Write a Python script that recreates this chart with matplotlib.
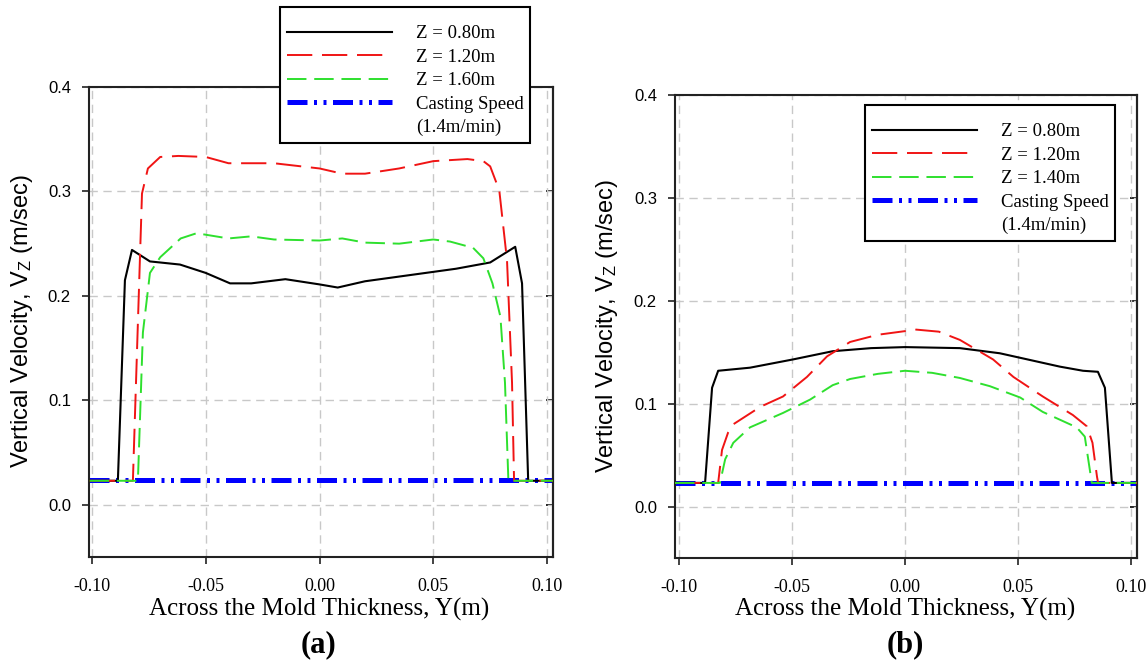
import matplotlib
matplotlib.use("Agg")
import matplotlib.pyplot as plt
from matplotlib.lines import Line2D

plt.rcParams['axes.unicode_minus'] = False
plt.rcParams['mathtext.default'] = 'regular'

# casting speed 1.4 m/min in m/s
cast_speed = 1.4 / 60.0

# ---- panel (a) ----
a_x_080 = [-0.101, -0.0886, -0.0855, -0.0824, -0.0745, -0.0613, -0.050, -0.0393, -0.030, -0.015,
           0.000, 0.008, 0.020, 0.040, 0.060, 0.075, 0.086, 0.089, 0.0917, 0.1025]
a_v_080 = [0.023, 0.023, 0.215, 0.244, 0.233, 0.230, 0.222, 0.212, 0.212, 0.216,
           0.211, 0.208, 0.214, 0.220, 0.226, 0.232, 0.247, 0.212, 0.023, 0.023]

a_x_120 = [-0.101, -0.082, -0.078, -0.0754, -0.070, -0.062, -0.050, -0.040, -0.020, 0.000,
           0.010, 0.020, 0.035, 0.050, 0.065, 0.072, 0.075, 0.079, 0.0824, 0.0846, 0.0855, 0.1025]
a_v_120 = [0.023, 0.023, 0.298, 0.322, 0.333, 0.334, 0.333, 0.327, 0.327, 0.322,
           0.317, 0.317, 0.322, 0.329, 0.331, 0.329, 0.324, 0.301, 0.234, 0.117, 0.023, 0.023]

a_x_160 = [-0.101, -0.0798, -0.0776, -0.0745, -0.070, -0.061, -0.054, -0.040, -0.030, -0.020,
           0.000, 0.010, 0.020, 0.035, 0.050, 0.0574, 0.0675, 0.072, 0.076, 0.0795, 0.0815, 0.083, 0.1025]
a_v_160 = [0.023, 0.023, 0.165, 0.222, 0.237, 0.255, 0.260, 0.255, 0.257, 0.254,
           0.253, 0.255, 0.251, 0.250, 0.254, 0.252, 0.246, 0.236, 0.212, 0.180, 0.117, 0.023, 0.023]

# ---- panel (b) ----
b_x_080 = [-0.1018, -0.0885, -0.0854, -0.0827, -0.0686, -0.0496, -0.032, -0.015, 0.000, 0.0243,
           0.042, 0.0686, 0.0788, 0.0854, 0.0885, 0.0916, 0.1027]
b_v_080 = [0.023, 0.023, 0.1155, 0.132, 0.135, 0.143, 0.151, 0.154, 0.155, 0.154,
           0.149, 0.136, 0.132, 0.131, 0.1155, 0.023, 0.023]

b_x_120 = [-0.1018, -0.0827, -0.081, -0.0783, -0.076, -0.064, -0.054, -0.0434, -0.0345, -0.0243,
           -0.012, 0.005, 0.015, 0.0243, 0.039, 0.048, 0.061, 0.0743, 0.0805, 0.083, 0.085, 0.0855, 0.1027]
b_v_120 = [0.023, 0.023, 0.055, 0.072, 0.080, 0.097, 0.107, 0.126, 0.146, 0.160,
           0.167, 0.172, 0.170, 0.162, 0.143, 0.126, 0.107, 0.089, 0.078, 0.062, 0.029, 0.023, 0.023]

b_x_140 = [-0.1018, -0.0819, -0.0796, -0.076, -0.0686, -0.054, -0.042, -0.032, -0.0243, -0.012,
           0.000, 0.012, 0.0243, 0.0376, 0.051, 0.061, 0.076, 0.0796, 0.0827, 0.1027]
b_v_140 = [0.023, 0.023, 0.046, 0.062, 0.077, 0.091, 0.104, 0.118, 0.124, 0.129,
           0.132, 0.130, 0.125, 0.117, 0.106, 0.092, 0.077, 0.068, 0.023, 0.023]

x_ticks = [-0.10, -0.05, 0.00, 0.05, 0.10]
y_ticks = [0.0, 0.1, 0.2, 0.3, 0.4]

fig = plt.figure(figsize=(11.48, 6.64), dpi=100)
ax_a = fig.add_axes([0.0775, 0.1611, 0.4042, 0.7079])
ax_b = fig.add_axes([0.5880, 0.1596, 0.4024, 0.6973])


def draw_panel(ax, xlim, curves, z_labels, leg_anchor):
    ax.set_xlim(*xlim)
    ax.set_ylim(-0.05, 0.4)
    blue, = ax.plot([xlim[0], xlim[1]], [cast_speed, cast_speed], color='#0000ff', lw=3.6,
                    dashes=(4, 1.3, 0.6, 1.3, 0.6, 1.3), zorder=2)
    black, = ax.plot(curves[0][0], curves[0][1], color='black', lw=1.5, zorder=3)
    red, = ax.plot(curves[1][0], curves[1][1], color='#f01414', lw=1.4, dashes=(13, 5), zorder=3)
    green, = ax.plot(curves[2][0], curves[2][1], color='#2ee02e', lw=1.4, dashes=(10, 4), zorder=3)

    ax.set_xticks(x_ticks)
    ax.set_yticks(y_ticks)
    ax.set_xticklabels(['%.2f' % v for v in x_ticks], fontfamily='Liberation Serif', fontsize=13)
    ax.set_yticklabels(['%.1f' % v for v in y_ticks], fontfamily='Liberation Sans', fontsize=12)
    ax.tick_params(direction='out', length=5, width=1.2, colors='#222222', labelcolor='black')
    ax.tick_params(axis='x', pad=10)
    ax.tick_params(axis='y', pad=8)
    sec = ax.secondary_yaxis('right')
    sec.set_yticks(y_ticks)
    sec.tick_params(direction='in', length=5, width=1.2, labelright=False)
    sec.spines['right'].set_linewidth(1.5)
    ax.grid(True, color='#c8c8c8', ls=(0, (6, 4)), lw=1.0)
    ax.set_axisbelow(True)
    for s in ax.spines.values():
        s.set_linewidth(1.5)
        s.set_color('#222222')

    spacer = Line2D([], [], linestyle='none')
    leg = ax.legend([black, red, green, blue, spacer],
                    z_labels + ['Casting Speed', '(1.4m/min)'],
                    loc='upper left', bbox_to_anchor=leg_anchor, bbox_transform=fig.transFigure,
                    borderaxespad=0, prop={'family': 'Liberation Serif', 'size': 13.5},
                    title=' ', title_fontsize=4,
                    handlelength=5.6, handletextpad=1.3, borderpad=0.35, labelspacing=0.34,
                    fancybox=False, framealpha=1, edgecolor='black')
    leg.get_frame().set_linewidth(1.5)


draw_panel(ax_a, (-0.1013, 0.1026), [(a_x_080, a_v_080), (a_x_120, a_v_120), (a_x_160, a_v_160)],
           ['Z = 0.80m', 'Z = 1.20m', 'Z = 1.60m'], (280 / 1148, 1 - 7 / 664))
draw_panel(ax_b, (-0.1018, 0.1027), [(b_x_080, b_v_080), (b_x_120, b_v_120), (b_x_140, b_v_140)],
           ['Z = 0.80m', 'Z = 1.20m', 'Z = 1.40m'], (865 / 1148, 1 - 105 / 664))

ylab = 'Vertical Velocity, V$_Z$ (m/sec)'
xlab = 'Across the Mold Thickness, Y(m)'
fig.text(22 / 1148, 1 - 321 / 664, ylab, rotation=90, ha='center', va='center',
         fontfamily='Liberation Sans', fontsize=17)
fig.text(607 / 1148, 1 - 326 / 664, ylab, rotation=90, ha='center', va='center',
         fontfamily='Liberation Sans', fontsize=17)
fig.text(319 / 1148, 1 - 609 / 664, xlab, ha='center', va='center',
         fontfamily='Liberation Serif', fontsize=18)
fig.text(905 / 1148, 1 - 609 / 664, xlab, ha='center', va='center',
         fontfamily='Liberation Serif', fontsize=18)
fig.text(319 / 1148, 1 - 645 / 664, '(a)', ha='center', va='center',
         fontfamily='Liberation Serif', fontsize=22, fontweight='bold')
fig.text(905 / 1148, 1 - 645 / 664, '(b)', ha='center', va='center',
         fontfamily='Liberation Serif', fontsize=22, fontweight='bold')

fig.savefig('out.png', dpi=100)
